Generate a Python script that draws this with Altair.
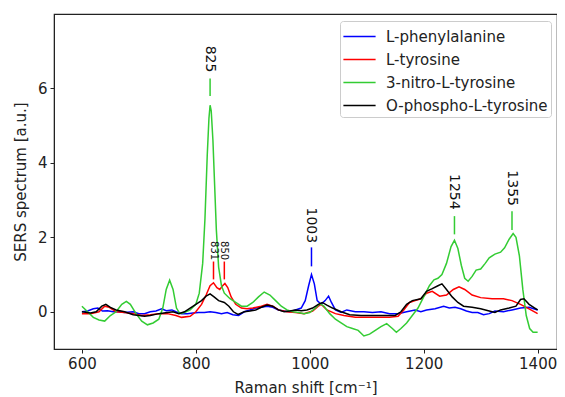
import altair as alt
import pandas as pd

series_names = ["L-phenylalanine", "L-tyrosine", "3-nitro-L-tyrosine", "O-phospho-L-tyrosine"]
series_colors = ["#0000ff", "#ff0000", "#33cc33", "#000000"]

phe_x = [600, 610, 620, 628, 636, 645, 655, 665, 675, 690, 700, 710, 720, 730, 740, 748, 758, 765, 775, 785, 795, 805, 815, 825, 835, 845, 855, 865, 875, 885, 895, 905, 915, 925, 935, 945, 955, 965, 975, 985, 992, 998, 1003, 1008, 1013, 1020, 1027, 1033, 1038, 1045, 1055, 1065, 1080, 1095, 1110, 1125, 1140, 1155, 1170, 1185, 1195, 1205, 1220, 1235, 1245, 1255, 1265, 1275, 1285, 1295, 1305, 1315, 1325, 1340, 1355, 1370, 1385, 1400]
phe_y = [0.0, 0.02, 0.08, 0.1, 0.02, 0.03, 0.0, 0.0, -0.02, 0.0, -0.05, -0.05, 0.0, 0.02, 0.08, 0.03, 0.05, 0.0, -0.05, -0.05, -0.03, -0.02, -0.02, 0.0, -0.02, -0.05, -0.02, -0.08, -0.1, 0.0, 0.05, 0.1, 0.12, 0.15, 0.12, 0.05, 0.02, 0.0, 0.05, 0.1, 0.3, 0.7, 1.0, 0.75, 0.3, 0.2, 0.3, 0.42, 0.25, 0.05, -0.02, 0.05, 0.0, 0.0, -0.02, 0.0, -0.05, -0.05, 0.0, 0.05, 0.0, 0.05, 0.08, 0.15, 0.1, 0.12, 0.08, 0.02, -0.02, -0.02, -0.08, -0.05, 0.02, 0.0, 0.05, 0.1, 0.12, 0.05]

tyr_x = [600, 615, 630, 640, 648, 660, 675, 690, 705, 720, 735, 750, 765, 775, 790, 800, 810, 818, 825, 831, 837, 842, 847, 851, 856, 862, 870, 880, 890, 900, 915, 925, 935, 945, 960, 975, 990, 1005, 1015, 1020, 1030, 1045, 1060, 1080, 1100, 1120, 1140, 1155, 1165, 1175, 1185, 1195, 1205, 1215, 1228, 1240, 1252, 1262, 1272, 1285, 1300, 1320, 1340, 1355, 1370, 1385, 1400]
tyr_y = [-0.05, -0.05, 0.0, 0.15, 0.12, 0.0, -0.02, -0.05, -0.1, -0.08, -0.05, -0.05, -0.1, -0.15, -0.12, 0.0, 0.2, 0.45, 0.7, 0.78, 0.65, 0.6, 0.7, 0.76, 0.65, 0.4, 0.2, 0.1, 0.08, 0.1, 0.15, 0.2, 0.15, 0.05, 0.0, -0.02, -0.05, 0.02, 0.15, 0.2, 0.05, -0.05, -0.1, -0.15, -0.15, -0.15, -0.15, -0.12, 0.05, 0.25, 0.3, 0.35, 0.5, 0.55, 0.42, 0.45, 0.6, 0.67, 0.6, 0.45, 0.38, 0.35, 0.35, 0.3, 0.2, 0.08, -0.05]

nitro_x = [600, 610, 620, 630, 640, 650, 660, 670, 678, 685, 695, 705, 715, 725, 735, 742, 748, 754, 760, 766, 772, 780, 790, 800, 806, 812, 816, 820, 823, 825, 827, 830, 833, 836, 840, 845, 850, 860, 870, 880, 890, 900, 910, 920, 930, 940, 950, 960, 970, 980, 990, 1000, 1010, 1018, 1025, 1035, 1045, 1055, 1065, 1075, 1085, 1095, 1105, 1115, 1125, 1135, 1145, 1152, 1160, 1170, 1180, 1190, 1200, 1210, 1218, 1225, 1232, 1240, 1248, 1254, 1260, 1266, 1272, 1278, 1285, 1292, 1300, 1308, 1315, 1325, 1335, 1342, 1350, 1357, 1362, 1368, 1374, 1380, 1386, 1392, 1400]
nitro_y = [0.15, 0.0, -0.15, -0.22, -0.25, -0.1, 0.0, 0.2, 0.28, 0.2, -0.05, -0.25, -0.35, -0.3, -0.2, 0.1, 0.6, 0.85, 0.6, 0.1, -0.05, -0.02, 0.05, 0.2, 0.5, 1.3, 2.5, 4.2, 5.2, 5.55, 5.4, 4.6, 3.4, 2.2, 1.2, 0.7, 0.5, 0.35, 0.25, 0.15, 0.15, 0.25, 0.4, 0.53, 0.45, 0.3, 0.15, 0.05, 0.0, -0.02, -0.05, -0.02, 0.1, 0.22, 0.15, -0.05, -0.2, -0.3, -0.4, -0.45, -0.5, -0.65, -0.6, -0.5, -0.4, -0.32, -0.45, -0.55, -0.45, -0.3, -0.1, 0.1, 0.4, 0.7, 0.86, 0.9, 1.0, 1.3, 1.75, 1.92, 1.7, 1.25, 0.9, 0.82, 0.95, 1.12, 1.15, 1.3, 1.45, 1.55, 1.6, 1.72, 1.95, 2.1, 2.0, 1.5, 0.6, -0.1, -0.45, -0.55, -0.55]

phos_x = [600, 615, 625, 635, 642, 650, 660, 675, 690, 700, 710, 720, 735, 750, 760, 770, 780, 790, 800, 810, 818, 825, 832, 840, 850, 858, 866, 874, 885, 895, 905, 915, 925, 935, 945, 955, 965, 975, 985, 995, 1005, 1015, 1022, 1030, 1040, 1055, 1070, 1090, 1110, 1130, 1150, 1160, 1170, 1180, 1195, 1205, 1215, 1225, 1232, 1240, 1250, 1260, 1270, 1285, 1300, 1315, 1325, 1335, 1350, 1362, 1370, 1376, 1385, 1395, 1400]
phos_y = [0.0, -0.03, 0.0, 0.15, 0.2, 0.12, 0.05, 0.0, -0.08, -0.1, -0.12, -0.1, -0.05, -0.02, 0.0, -0.05, 0.0, 0.1, 0.2, 0.3, 0.42, 0.48, 0.4, 0.3, 0.25, 0.15, 0.0, -0.07, 0.0, 0.02, 0.05, 0.12, 0.18, 0.15, 0.05, 0.0, 0.02, 0.05, 0.03, 0.05, 0.1, 0.2, 0.25, 0.18, 0.1, 0.0, -0.08, -0.1, -0.1, -0.1, -0.1, 0.0, 0.2, 0.3, 0.35, 0.55, 0.62, 0.7, 0.75, 0.6, 0.4, 0.25, 0.15, 0.12, 0.08, 0.02, -0.02, 0.05, 0.1, 0.15, 0.33, 0.35, 0.2, 0.1, 0.05]

# peak annotations
ann_label = ["825", "831", "850", "1003", "1254", "1355"]
ann_x = [825, 831, 850, 1003, 1254, 1355]
ann_color = ["#33cc33", "#ff0000", "#ff0000", "#0000ff", "#33cc33", "#33cc33"]
ann_tick_lo = [5.8, 0.87, 0.87, 1.22, 2.08, 2.2]
ann_tick_hi = [6.27, 1.35, 1.35, 1.73, 2.57, 2.7]
ann_text_y = [7.15, 1.9, 1.9, 2.8, 3.7, 3.8]
ann_size = [14, 10, 10, 14, 14, 14]

rows = []
for name, xs, ys in [(series_names[0], phe_x, phe_y), (series_names[1], tyr_x, tyr_y),
                     (series_names[2], nitro_x, nitro_y), (series_names[3], phos_x, phos_y)]:
    for i, (a, b) in enumerate(zip(xs, ys)):
        rows.append({"shift": a, "value": b, "series": name, "order": i})
df = pd.DataFrame(rows)

ann = pd.DataFrame({"label": ann_label, "x": ann_x, "color": ann_color,
                    "lo": ann_tick_lo, "hi": ann_tick_hi, "ty": ann_text_y, "size": ann_size})

FONT = "DejaVu Sans"
INK = "#222222"
xscale = alt.Scale(domain=[551, 1434], nice=False, zero=False)
yscale = alt.Scale(domain=[-1, 8], nice=False, zero=False)

lines = alt.Chart(df).mark_line(strokeWidth=1.5, clip=True).encode(
    x=alt.X("shift:Q", scale=xscale,
            axis=alt.Axis(title="Raman shift [cm⁻¹]", values=[600, 800, 1000, 1200, 1400],
                          format="d", grid=False, tickSize=4, labelPadding=3, labelFontSize=15,
                          titleFontSize=15, titleFontWeight="normal", titleY=38,
                          titleBaseline="middle", labelFont=FONT, titleFont=FONT,
                          labelColor=INK, titleColor=INK, domainColor=INK, tickColor=INK)),
    y=alt.Y("value:Q", scale=yscale,
            axis=alt.Axis(title="SERS spectrum [a.u.]", values=[0, 2, 4, 6], grid=False,
                          tickSize=4, labelPadding=3, labelFontSize=15, titleFontSize=15,
                          titleFontWeight="normal", titleX=-34, titleBaseline="middle",
                          labelFont=FONT, titleFont=FONT,
                          labelColor=INK, titleColor=INK, domainColor=INK, tickColor=INK)),
    color=alt.Color("series:N", scale=alt.Scale(domain=series_names, range=series_colors),
                    sort=series_names,
                    legend=alt.Legend(title=None, orient="none", legendX=286, legendY=7,
                                      symbolType="M-1.4,0L1.4,0", symbolSize=529,
                                      symbolStrokeWidth=1.5, symbolOffset=4,
                                      labelFontSize=15, labelFont=FONT, labelColor=INK,
                                      labelOffset=14, rowPadding=2, padding=3,
                                      strokeColor="#cccccc", cornerRadius=3,
                                      fillColor="white", labelLimit=300)),
    order="order:Q",
    detail="series:N",
)

ticks = alt.Chart(ann).mark_rule(strokeWidth=1.5).encode(
    x=alt.X("x:Q", scale=xscale),
    y=alt.Y("lo:Q", scale=yscale),
    y2="hi:Q",
    color=alt.Color("color:N", scale=None),
)

texts = alt.Chart(ann).mark_text(angle=90, align="left", baseline="middle", font=FONT,
                                 color="#111").encode(
    x=alt.X("x:Q", scale=xscale),
    y=alt.Y("ty:Q", scale=yscale),
    text="label:N",
    size=alt.Size("size:Q", scale=None, legend=None),
)

chart = alt.layer(lines, ticks, texts).properties(
    width=503, height=335,
    autosize=alt.AutoSizeParams(type="none"),
    padding={"left": 46, "top": 6, "right": 0, "bottom": 46},
).configure_view(stroke=INK, strokeWidth=1.2)

chart.save("out.html", embed_options={"renderer": "svg", "actions": False})
